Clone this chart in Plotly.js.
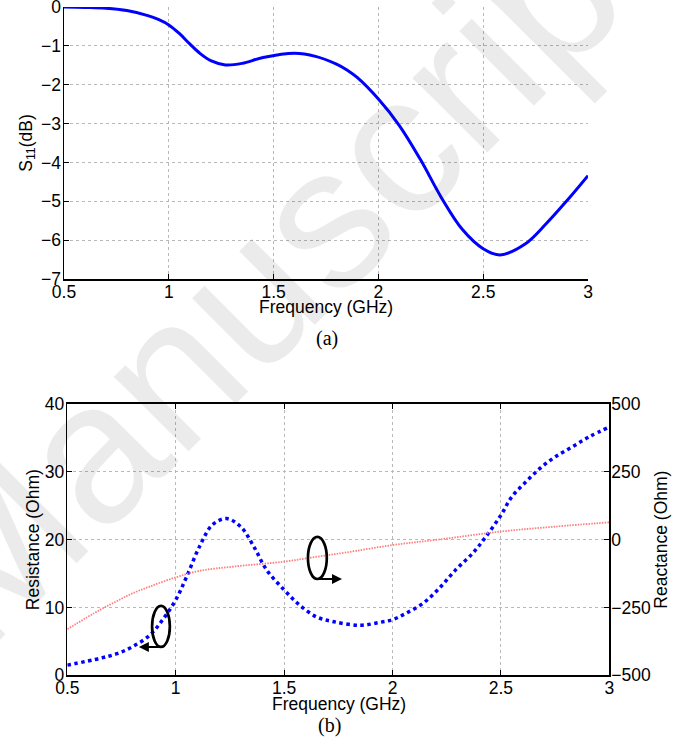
<!DOCTYPE html>
<html>
<head>
<meta charset="utf-8">
<script src="https://cdn.plot.ly/plotly-3.0.1.min.js"></script>
<style>html,body{margin:0;padding:0;background:#fff;}#chart{width:689px;height:748px;}</style>
</head>
<body>
<div id="chart"></div>
<script>
// ---- data ----
var s11Freq = [0.5, 0.6, 0.7, 0.8, 0.9, 0.95, 1.0, 1.05, 1.1, 1.15, 1.2, 1.27, 1.35, 1.45, 1.6, 1.7, 1.8, 1.85, 1.9, 2.0, 2.1, 2.2, 2.3, 2.4, 2.5, 2.58, 2.7, 2.8, 2.9, 3.0];
var s11dB = [0, -0.01, -0.03, -0.09, -0.22, -0.32, -0.46, -0.68, -0.95, -1.2, -1.38, -1.49, -1.45, -1.3, -1.19, -1.27, -1.47, -1.62, -1.82, -2.37, -3.05, -3.92, -4.9, -5.72, -6.22, -6.38, -6.1, -5.58, -4.98, -4.34];

var resFreq = [0.5, 0.65, 0.73, 0.8, 0.88, 0.94, 1.0, 1.05, 1.11, 1.17, 1.235, 1.3, 1.36, 1.42, 1.5, 1.57, 1.65, 1.73, 1.85, 1.94, 2.0, 2.06, 2.14, 2.215, 2.29, 2.37, 2.43, 2.5, 2.55, 2.615, 2.68, 2.75, 2.83, 2.91, 3.0];
var resistance = [1.5, 2.5, 3.2, 4.2, 5.9, 8.2, 11.1, 14.5, 19, 22.2, 23.1, 21.9, 19, 15.5, 12.6, 10.4, 8.6, 7.9, 7.37, 7.8, 8.2, 9.1, 10.6, 12.8, 15.5, 18, 20.4, 23.6, 26.3, 28.5, 30.5, 32.2, 33.7, 35.2, 36.6];

var reaFreq = [0.5, 0.65, 0.73, 0.8, 0.88, 1.0, 1.11, 1.27, 1.5, 1.65, 1.78, 2.0, 2.21, 2.5, 2.75, 3.0];
var reactance = [-330, -259, -226, -198, -173, -139, -115, -99, -81, -63, -48, -20, 0, 30, 48, 64];

var freqTicks = [0.5, 1, 1.5, 2, 2.5, 3];
var freqTickText = ['0.5', '1', '1.5', '2', '2.5', '3'];
var s11Ticks = [0, -1, -2, -3, -4, -5, -6, -7];
var resTicks = [0, 10, 20, 30, 40];
var reaTicks = [-500, -250, 0, 250, 500];

// ---- traces ----
var traces = [
  {x: s11Freq, y: s11dB, xaxis: 'x', yaxis: 'y', mode: 'lines',
   line: {color: '#0000ff', width: 3, shape: 'spline', smoothing: 1}, hoverinfo: 'skip'},
  {x: reaFreq, y: reactance, xaxis: 'x2', yaxis: 'y3', mode: 'lines',
   line: {color: 'rgb(255,125,125)', width: 1.8, shape: 'spline', dash: '1.5px,1.2px'}, hoverinfo: 'skip'},
  {x: resFreq, y: resistance, xaxis: 'x2', yaxis: 'y2', mode: 'lines',
   line: {color: '#0000ff', width: 3.5, shape: 'spline', dash: '3.5px,3.5px'}, hoverinfo: 'skip'}
];

var font = {family: 'Liberation Sans, Arial, sans-serif', size: 17.5, color: '#000'};
var gridC = '#b8b8b8';

var common = {
  ticks: 'inside', ticklen: 5, tickwidth: 1, tickcolor: '#000',
  showline: true, linecolor: '#000', linewidth: 1.5,
  showgrid: true, gridcolor: gridC, gridwidth: 1, griddash: 'dot',
  zeroline: false, tickfont: font, fixedrange: true, ticklabeloverflow: 'allow'
};
function ax(o){ var r = {}; for (var k in common) r[k] = common[k]; for (var k2 in o) r[k2] = o[k2]; return r; }

var layout = {
  width: 689, height: 748,
  margin: {l: 0, r: 0, t: 0, b: 0},
  paper_bgcolor: '#fff', plot_bgcolor: 'rgba(0,0,0,0)',
  showlegend: false,
  font: font,
  xaxis: ax({domain: [0.0929, 0.8534], range: [0.5, 3], anchor: 'y',
    tickvals: freqTicks, ticktext: freqTickText, ticklabelstandoff: -4}),
  yaxis: ax({domain: [0.627, 0.9906], range: [-7, 0], anchor: 'x',
    tickvals: s11Ticks, ticklabelstandoff: -2,
    title: {text: 'S<sub>11</sub>(dB)', font: font, standoff: 4}}),
  xaxis2: ax({domain: [0.0977, 0.8843], range: [0.5, 3], anchor: 'y2',
    tickvals: freqTicks, ticktext: freqTickText, mirror: 'ticks', ticklabelstandoff: -4}),
  yaxis2: ax({domain: [0.0972, 0.4599], range: [0, 40], anchor: 'x2',
    tickvals: resTicks, ticklabelstandoff: -2,
    title: {text: 'Resistance (Ohm)', font: font, standoff: 0}}),
  yaxis3: ax({range: [-500, 500], overlaying: 'y2', anchor: 'x2', side: 'right',
    tickvals: reaTicks, showgrid: false, ticklabelstandoff: -3,
    title: {text: 'Reactance (Ohm)', font: font, standoff: 4}}),
  shapes: [
    {type: 'circle', xref: 'x2', yref: 'y2', x0: 0.891, x1: 0.973, y0: 4.18, y1: 10.22,
     line: {color: '#000', width: 2.7}},
    {type: 'circle', xref: 'x2', yref: 'y2', x0: 1.61, x1: 1.697, y0: 14.2, y1: 20.4,
     line: {color: '#000', width: 2.7}}
  ],
  annotations: [
    {xref: 'paper', yref: 'paper', x: 0.405, y: 0.649, xanchor: 'center', yanchor: 'middle',
     text: 'Manuscript', showarrow: false, textangle: -45,
     font: {family: 'Liberation Sans, Arial, sans-serif', size: 200, color: 'rgba(0,0,0,0.08)'}},
    {xref: 'x2', yref: 'y2', x: 0.83, y: 4.18, ax: 0.935, ay: 4.18, axref: 'x2', ayref: 'y2',
     text: '', showarrow: true, arrowhead: 2, arrowsize: 1, arrowwidth: 2, arrowcolor: '#000'},
    {xref: 'x2', yref: 'y2', x: 1.767, y: 14.2, ax: 1.655, ay: 14.2, axref: 'x2', ayref: 'y2',
     text: '', showarrow: true, arrowhead: 2, arrowsize: 1, arrowwidth: 2, arrowcolor: '#000'},
    {xref: 'paper', yref: 'paper', x: 326/689, y: 1 - 307/748, xanchor: 'center', yanchor: 'middle',
     text: 'Frequency (GHz)', showarrow: false, font: font},
    {xref: 'paper', yref: 'paper', x: 338.5/689, y: 1 - 704/748, xanchor: 'center', yanchor: 'middle',
     text: 'Frequency (GHz)', showarrow: false, font: font},
    {xref: 'paper', yref: 'paper', x: 327/689, y: 1 - 338/748, xanchor: 'center', yanchor: 'middle',
     text: '(a)', showarrow: false,
     font: {family: 'Liberation Serif, Times New Roman, serif', size: 20, color: '#000'}},
    {xref: 'paper', yref: 'paper', x: 329/689, y: 1 - 725/748, xanchor: 'center', yanchor: 'middle',
     text: '(b)', showarrow: false,
     font: {family: 'Liberation Serif, Times New Roman, serif', size: 20, color: '#000'}}
  ]
};

Plotly.newPlot('chart', traces, layout, {staticPlot: true, displayModeBar: false});
</script>
</body>
</html>
